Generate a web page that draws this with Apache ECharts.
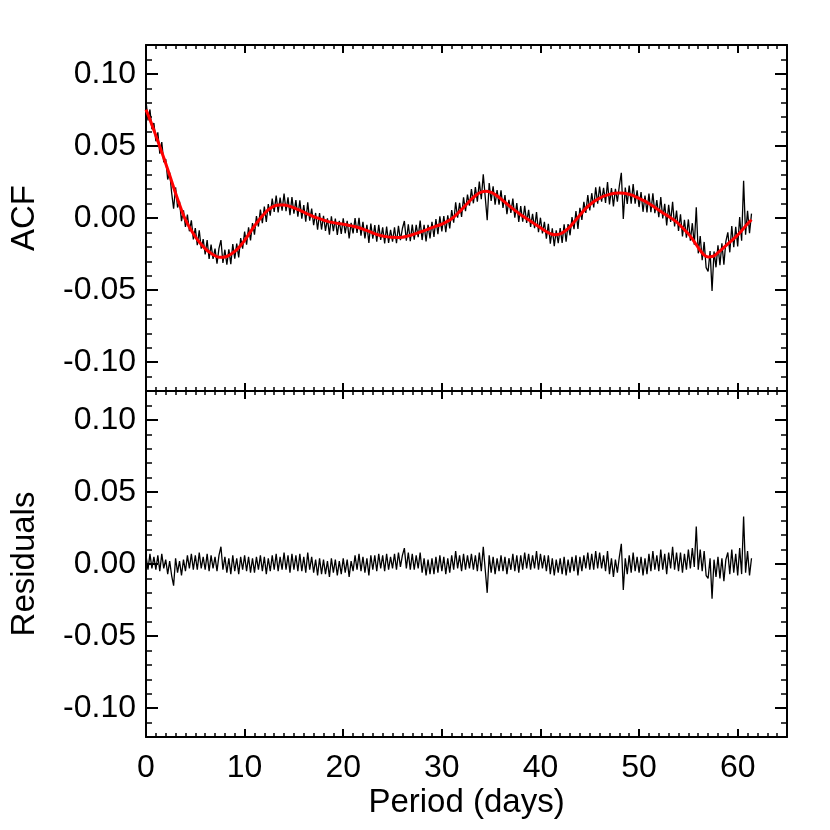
<!DOCTYPE html>
<html>
<head>
<meta charset="utf-8">
<title>ACF fit and residuals</title>
<script src="https://cdn.jsdelivr.net/npm/echarts@6/dist/echarts.min.js"></script>
<style>
  html, body { margin: 0; padding: 0; background: #fff; }
  #chart { width: 830px; height: 830px; }
</style>
</head>
<body>
<div id="chart"></div>
<script>
// lag grid of the measured ACF and of the residuals (days)
const lagStart = 0;
const lagStep = 0.2;

// measured ACF, one value every lagStep days
const acf = [
  0.0812, 0.0677, 0.0753, 0.0616, 0.0659, 0.0532, 0.0594, 0.0446, 0.0527, 0.0387,
  0.0408, 0.0267, 0.0316, 0.0175, 0.0064, 0.0212, 0.0073, 0.0114, -0.0022, 0.0053,
  -0.0062, 0.0023, -0.0092, -0.0016, -0.0148, -0.0070, -0.0188, -0.0086, -0.0212, -0.0147,
  -0.0252, -0.0153, -0.0284, -0.0184, -0.0283, -0.0212, -0.0317, -0.0211, -0.0153, -0.0312,
  -0.0220, -0.0324, -0.0218, -0.0320, -0.0181, -0.0282, -0.0178, -0.0274, -0.0139, -0.0212,
  -0.0095, -0.0185, -0.0065, -0.0155, -0.0035, -0.0115, 0.0013, -0.0059, 0.0058, -0.0036,
  0.0080, -0.0027, 0.0096, 0.0016, 0.0134, 0.0042, 0.0156, 0.0039, 0.0141, 0.0051,
  0.0170, 0.0047, 0.0144, 0.0020, 0.0145, 0.0030, 0.0124, 0.0009, 0.0123, -0.0004,
  0.0090, -0.0026, 0.0108, -0.0018, 0.0066, -0.0050, 0.0035, -0.0081, 0.0035, -0.0080,
  0.0015, -0.0089, -0.0003, -0.0116, 0.0011, -0.0092, -0.0004, -0.0117, -0.0019, -0.0111,
  -0.0003, -0.0106, -0.0019, -0.0142, -0.0034, -0.0107, -0.0001, -0.0104, 0.0002, -0.0122,
  -0.0027, -0.0142, -0.0047, -0.0173, -0.0038, -0.0144, -0.0049, -0.0164, -0.0048, -0.0152,
  -0.0065, -0.0177, -0.0060, -0.0172, -0.0083, -0.0164, -0.0064, -0.0175, -0.0055, -0.0154,
  -0.0073, -0.0021, -0.0158, -0.0044, -0.0160, -0.0046, -0.0151, -0.0047, -0.0133, -0.0018,
  -0.0153, -0.0048, -0.0163, -0.0047, -0.0142, -0.0027, -0.0132, -0.0007, -0.0113, 0.0012,
  -0.0093, 0.0014, -0.0099, 0.0019, -0.0073, 0.0055, -0.0033, 0.0109, 0.0002, 0.0105,
  0.0008, 0.0143, 0.0048, 0.0162, 0.0086, 0.0200, 0.0102, 0.0214, 0.0114, 0.0252,
  0.0130, 0.0303, 0.0145, -0.0015, 0.0243, 0.0118, 0.0220, 0.0092, 0.0193, 0.0092,
  0.0192, 0.0070, 0.0159, 0.0027, 0.0126, 0.0035, 0.0134, 0.0003, 0.0103, -0.0027,
  0.0083, -0.0026, 0.0085, -0.0034, 0.0057, -0.0062, 0.0029, -0.0070, 0.0041, -0.0099,
  0.0002, -0.0107, -0.0026, -0.0144, -0.0041, -0.0178, -0.0072, -0.0195, -0.0086, -0.0174,
  -0.0070, -0.0173, -0.0044, -0.0164, -0.0042, -0.0120, 0.0006, -0.0078, 0.0048, -0.0076,
  0.0070, -0.0014, 0.0112, 0.0036, 0.0159, 0.0052, 0.0172, 0.0073, 0.0212, 0.0100,
  0.0218, 0.0114, 0.0210, 0.0105, 0.0250, 0.0094, 0.0207, 0.0080, 0.0202, 0.0113,
  0.0224, 0.0314, -0.0007, 0.0211, 0.0098, 0.0225, 0.0100, 0.0235, 0.0099, 0.0192,
  0.0076, 0.0180, 0.0043, 0.0156, 0.0038, 0.0170, 0.0041, 0.0172, 0.0033, 0.0124,
  0.0005, 0.0146, -0.0003, 0.0098, -0.0051, 0.0091, -0.0028, 0.0113, -0.0058, 0.0051,
  -0.0090, 0.0026, -0.0128, -0.0012, -0.0136, -0.0010, -0.0158, -0.0036, -0.0185, 0.0075,
  -0.0245, -0.0125, -0.0293, -0.0166, -0.0344, -0.0370, -0.0229, -0.0507, -0.0232, -0.0342,
  -0.0190, -0.0328, -0.0176, -0.0324, -0.0162, -0.0100, -0.0238, -0.0056, -0.0203, -0.0061,
  -0.0198, 0.0007, -0.0158, 0.0258, -0.0116, 0.0050, -0.0105, 0.0030
];

// residuals (ACF minus fit), same lag grid
const residuals = [
  0.006, -0.004, 0.007, -0.003, 0.005, -0.004, 0.006, -0.005, 0.007, -0.003,
  0.003, -0.007, 0.002, -0.008, -0.015, 0.004, -0.006, 0.002, -0.008, 0.003,
  -0.005, 0.006, -0.003, 0.007, -0.004, 0.006, -0.004, 0.008, -0.003, 0.005,
  -0.004, 0.007, -0.005, 0.006, -0.003, 0.005, -0.005, 0.006, 0.012, -0.004,
  0.005, -0.006, 0.004, -0.007, 0.006, -0.005, 0.004, -0.007, 0.005, -0.004,
  0.006, -0.005, 0.005, -0.006, 0.004, -0.006, 0.005, -0.004, 0.006, -0.005,
  0.005, -0.007, 0.004, -0.005, 0.006, -0.004, 0.007, -0.005, 0.005, -0.004,
  0.008, -0.004, 0.006, -0.006, 0.007, -0.004, 0.006, -0.005, 0.007, -0.005,
  0.005, -0.006, 0.008, -0.004, 0.005, -0.006, 0.003, -0.008, 0.004, -0.007,
  0.003, -0.007, 0.002, -0.009, 0.004, -0.006, 0.003, -0.008, 0.002, -0.007,
  0.004, -0.006, 0.003, -0.009, 0.002, -0.005, 0.006, -0.004, 0.007, -0.005,
  0.005, -0.006, 0.004, -0.008, 0.006, -0.004, 0.006, -0.005, 0.007, -0.003,
  0.006, -0.005, 0.007, -0.004, 0.005, -0.003, 0.007, -0.004, 0.008, -0.002,
  0.006, 0.011, -0.003, 0.008, -0.004, 0.007, -0.004, 0.006, -0.003, 0.008,
  -0.006, 0.004, -0.008, 0.003, -0.007, 0.004, -0.007, 0.005, -0.006, 0.006,
  -0.005, 0.005, -0.007, 0.004, -0.006, 0.006, -0.004, 0.009, -0.003, 0.006,
  -0.005, 0.007, -0.004, 0.006, -0.003, 0.007, -0.004, 0.006, -0.005, 0.008,
  -0.005, 0.012, -0.004, -0.020, 0.006, -0.006, 0.005, -0.007, 0.004, -0.005,
  0.006, -0.005, 0.005, -0.007, 0.004, -0.004, 0.007, -0.005, 0.006, -0.006,
  0.006, -0.004, 0.008, -0.003, 0.007, -0.004, 0.006, -0.003, 0.009, -0.004,
  0.007, -0.003, 0.006, -0.005, 0.006, -0.007, 0.004, -0.008, 0.003, -0.006,
  0.004, -0.007, 0.005, -0.008, 0.003, -0.006, 0.005, -0.005, 0.006, -0.008,
  0.005, -0.005, 0.006, -0.003, 0.008, -0.004, 0.007, -0.004, 0.009, -0.003,
  0.008, -0.003, 0.006, -0.005, 0.009, -0.007, 0.004, -0.009, 0.003, -0.006,
  0.005, 0.014, -0.018, 0.004, -0.007, 0.006, -0.006, 0.008, -0.005, 0.005,
  -0.006, 0.005, -0.008, 0.004, -0.007, 0.007, -0.005, 0.009, -0.004, 0.006,
  -0.005, 0.010, -0.004, 0.007, -0.007, 0.008, -0.003, 0.012, -0.004, 0.008,
  -0.005, 0.008, -0.006, 0.007, -0.004, 0.010, -0.003, 0.011, -0.002, 0.026,
  -0.004, 0.010, -0.005, 0.009, -0.008, -0.010, 0.004, -0.024, 0.003, -0.009,
  0.005, -0.010, 0.004, -0.012, 0.003, 0.008, -0.007, 0.010, -0.006, 0.007,
  -0.008, 0.011, -0.007, 0.033, -0.006, 0.009, -0.008, 0.004
];

// smooth fit to the ACF: [lag (days), value]
const fitCurve = [
  [0, 0.0752], [0.5, 0.0665], [1, 0.0572], [1.5, 0.0476], [2, 0.0378], [2.5, 0.0276],
  [3, 0.0172], [3.5, 0.0075], [4, -0.0012], [4.5, -0.0075], [5, -0.0130], [5.5, -0.0175],
  [6, -0.0212], [6.5, -0.0240], [7, -0.0262], [7.5, -0.0273], [8, -0.0270], [8.5, -0.0255],
  [9, -0.0232], [9.5, -0.0198], [10, -0.0155], [10.5, -0.0105], [11, -0.0055], [11.5, -0.0010],
  [12, 0.0030], [12.5, 0.0062], [13, 0.0082], [13.5, 0.0091], [14, 0.0090], [14.5, 0.0082],
  [15, 0.0070], [15.5, 0.0056], [16, 0.0040], [16.5, 0.0025], [17, 0.0010], [17.5, -0.0003],
  [18, -0.0015], [18.5, -0.0025], [19, -0.0032], [19.5, -0.0038], [20, -0.0043], [20.5, -0.0050],
  [21, -0.0057], [21.5, -0.0066], [22, -0.0077], [22.5, -0.0090], [23, -0.0104], [23.5, -0.0116],
  [24, -0.0125], [24.5, -0.0131], [25, -0.0134], [25.5, -0.0135], [26, -0.0133], [26.5, -0.0126],
  [27, -0.0116], [27.5, -0.0105], [28, -0.0093], [28.5, -0.0080], [29, -0.0067], [29.5, -0.0055],
  [30, -0.0043], [30.5, -0.0025], [31, -0.0005], [31.5, 0.0025], [32, 0.0058], [32.5, 0.0095],
  [33, 0.0130], [33.5, 0.0160], [34, 0.0180], [34.5, 0.0186], [35, 0.0178], [35.5, 0.0158],
  [36, 0.0132], [36.5, 0.0103], [37, 0.0075], [37.5, 0.0048], [38, 0.0023], [38.5, 0.0000],
  [39, -0.0022], [39.5, -0.0045], [40, -0.0068], [40.5, -0.0090], [41, -0.0108], [41.5, -0.0116],
  [42, -0.0110], [42.5, -0.0090], [43, -0.0060], [43.5, -0.0020], [44, 0.0020], [44.5, 0.0060],
  [45, 0.0092], [45.5, 0.0118], [46, 0.0138], [46.5, 0.0153], [47, 0.0164], [47.5, 0.0171],
  [48, 0.0174], [48.5, 0.0172], [49, 0.0165], [49.5, 0.0152], [50, 0.0136], [50.5, 0.0120],
  [51, 0.0100], [51.5, 0.0078], [52, 0.0055], [52.5, 0.0032], [53, 0.0011], [53.5, -0.0012],
  [54, -0.0040], [54.5, -0.0075], [55, -0.0110], [55.5, -0.0155], [56, -0.0205], [56.5, -0.0250],
  [57, -0.0270], [57.5, -0.0265], [58, -0.0240], [58.5, -0.0210], [59, -0.0180], [59.5, -0.0150],
  [60, -0.0118], [60.5, -0.0080], [61, -0.0040], [61.4, -0.0012]
];

const periodTicks = [0, 10, 20, 30, 40, 50, 60];
const valueTicks = [-0.1, -0.05, 0, 0.05, 0.1];

const FONT = "'Liberation Sans', Arial, Helvetica, sans-serif";
const BLACK = '#000';

function onLag(values) {
  return values.map((v, i) => [+(lagStart + i * lagStep).toFixed(1), v]);
}

// four x axes per panel: bottom major/minor, top major/minor
function xAxes(gridIndex, withLabels) {
  const base = {
    type: 'value', gridIndex: gridIndex, min: 0, max: 65,
    splitLine: { show: false }
  };
  const major = (pos, labels) => Object.assign({}, base, {
    position: pos,
    axisLine: { show: true, onZero: false, lineStyle: { color: BLACK, width: 2 } },
    axisTick: { show: true, inside: true, length: 8, customValues: periodTicks,
      lineStyle: { color: BLACK, width: 2 } },
    axisLabel: { show: labels, customValues: periodTicks, margin: 15,
      fontSize: 32, color: BLACK, fontFamily: FONT },
    name: labels ? 'Period (days)' : '',
    nameLocation: 'middle', nameGap: 49,
    nameTextStyle: { fontSize: 33, color: BLACK, fontFamily: FONT }
  });
  const minor = (pos) => Object.assign({}, base, {
    position: pos, interval: 1,
    axisLine: { show: false, onZero: false },
    axisTick: { show: true, inside: true, length: 4, lineStyle: { color: BLACK, width: 1.5 } },
    axisLabel: { show: false }
  });
  return [major('bottom', withLabels), minor('bottom'), major('top', false), minor('top')];
}

// four y axes per panel: left major/minor, right major/minor
function yAxes(gridIndex, title) {
  const base = {
    type: 'value', gridIndex: gridIndex, min: -0.12, max: 0.12,
    splitLine: { show: false }
  };
  const major = (pos, labels) => Object.assign({}, base, {
    position: pos,
    axisLine: { show: true, onZero: false, lineStyle: { color: BLACK, width: 2 } },
    axisTick: { show: true, inside: true, length: 12, customValues: valueTicks,
      lineStyle: { color: BLACK, width: 2 } },
    axisLabel: { show: labels, customValues: valueTicks, margin: 10,
      fontSize: 32, color: BLACK, fontFamily: FONT,
      formatter: v => v.toFixed(2) },
    name: labels ? title : '',
    nameLocation: 'middle', nameGap: 105,
    nameTextStyle: { fontSize: 33, color: BLACK, fontFamily: FONT }
  });
  const minor = (pos) => Object.assign({}, base, {
    position: pos, interval: 0.01,
    axisLine: { show: false, onZero: false },
    axisTick: { show: true, inside: true, length: 6, lineStyle: { color: BLACK, width: 1.5 } },
    axisLabel: { show: false }
  });
  return [major('left', true), minor('left'), major('right', false), minor('right')];
}

const chart = echarts.init(document.getElementById('chart'));
chart.setOption({
  animation: false,
  backgroundColor: '#fff',
  grid: [
    { left: 145, top: 45, width: 642, height: 346 },
    { left: 145, top: 391, width: 642, height: 346 }
  ],
  xAxis: xAxes(0, false).concat(xAxes(1, true)),
  yAxis: yAxes(0, 'ACF').concat(yAxes(1, 'Residuals')),
  series: [
    {
      name: 'ACF', type: 'line', xAxisIndex: 0, yAxisIndex: 0,
      data: onLag(acf), showSymbol: false, silent: true, z: 2,
      lineStyle: { color: BLACK, width: 1.3 }
    },
    {
      name: 'Fit', type: 'line', xAxisIndex: 0, yAxisIndex: 0,
      data: fitCurve, showSymbol: false, silent: true, smooth: true, z: 3,
      lineStyle: { color: '#ff0000', width: 3 }
    },
    {
      name: 'Residuals', type: 'line', xAxisIndex: 4, yAxisIndex: 4,
      data: onLag(residuals), showSymbol: false, silent: true, z: 2,
      lineStyle: { color: BLACK, width: 1.3 }
    }
  ]
});
</script>
</body>
</html>
